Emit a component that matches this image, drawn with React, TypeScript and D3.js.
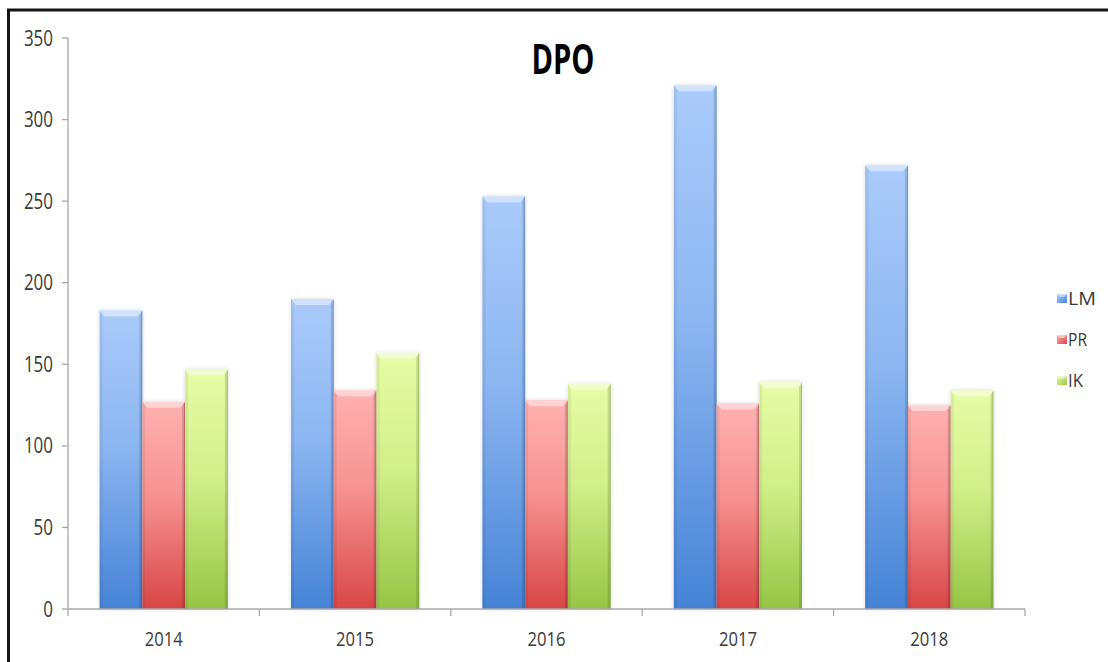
import React from "react";
import * as d3 from "d3";

const years = ["2014", "2015", "2016", "2017", "2018"];
const seriesNames = ["LM", "PR", "IK"];
const lmValues = [183, 190, 253, 321, 272];
const prValues = [127, 134, 128, 126, 125];
const ikValues = [147, 157, 138, 139, 134];
const yTicks = [0, 50, 100, 150, 200, 250, 300, 350];
const title = "DPO";

const seriesValues = [lmValues, prValues, ikValues];
const palette = [
  { top: "#aacbfb", mid: "#8cb6f1", bottom: "#4683d6", edge: "#3f74c0" },
  { top: "#ffb0b0", mid: "#f79292", bottom: "#d84646", edge: "#b83c3c" },
  { top: "#e6fca6", mid: "#d2ef8a", bottom: "#96c545", edge: "#7ea83a" },
];
const legendWidths = [28, 19, 15];

const W = 1108;
const H = 662;
const left = 68;
const right = 1025;
const bottom = 609;
const top = 38;
const FONT = "'Open Sans', 'DejaVu Sans', sans-serif";

export default function App() {
  const x = d3.scaleBand<string>().domain(years).range([left, right]).paddingInner(0.33).paddingOuter(0.165);
  const xs = d3.scaleBand<string>().domain(seriesNames).range([0, x.bandwidth()]);
  const y = d3.scaleLinear().domain([0, 350]).range([bottom, top]);
  const step = x.step();

  return (
    <svg width={W} height={H} style={{ position: "absolute", left: 0, top: 0, background: "#fff" }}>
      <defs>
        {palette.map((c, i) => (
          <linearGradient key={i} id={`g${i}`} x1="0" y1="0" x2="0" y2="1">
            <stop offset="0" stopColor={c.top} />
            <stop offset="0.45" stopColor={c.mid} />
            <stop offset="1" stopColor={c.bottom} />
          </linearGradient>
        ))}
        {palette.map((c, i) => (
          <linearGradient key={`l${i}`} id={`lg${i}`} x1="0" y1="0" x2="1" y2="1">
            <stop offset="0" stopColor={c.top} />
            <stop offset="1" stopColor={c.bottom} />
          </linearGradient>
        ))}
        <filter id="sh" x="-20%" y="-5%" width="140%" height="110%">
          <feGaussianBlur in="SourceAlpha" stdDeviation="2" />
          <feOffset dx="0" dy="0" result="b" />
          <feComponentTransfer><feFuncA type="linear" slope="0.15" /></feComponentTransfer>
          <feMerge><feMergeNode /><feMergeNode in="SourceGraphic" /></feMerge>
        </filter>
      </defs>

      <rect x={8.5} y={10} width={1300} height={900} fill="none" stroke="#151515" strokeWidth={3} />

      {/* title */}
      <text transform={`translate(${563},${74}) scale(1,1.5)`} textAnchor="middle" fontFamily={FONT} fontWeight="bold" fontSize={28} fill="#000" textLength={63} lengthAdjust="spacingAndGlyphs">
        {title}
      </text>

      {/* y axis */}
      <line x1={left} x2={left} y1={top} y2={bottom} stroke="#a8a8a8" strokeWidth={1.3} />
      {yTicks.map((t) => (
        <g key={t}>
          <line x1={left - 6} x2={left} y1={y(t)} y2={y(t)} stroke="#a8a8a8" strokeWidth={1.3} />
          <text transform={`translate(${53},${y(t) + 7.5}) scale(1,1.24)`} textAnchor="end" fontFamily={FONT} fontSize={17} fill="#3a3a3a" textLength={String(t).length * 9.7} lengthAdjust="spacingAndGlyphs">
            {t}
          </text>
        </g>
      ))}

      {/* bars */}
      {years.map((yr, yi) => (
        <g key={yr}>
          {seriesNames.map((s, si) => {
            const v = seriesValues[si][yi];
            const bx = (x(yr) as number) + (xs(s) as number);
            const bw = xs.bandwidth();
            const by = y(v);
            const c = palette[si];
            const bev = 5;
            return (
              <g key={s} filter="url(#sh)">
                <rect x={bx} y={by} width={bw} height={bottom - by} fill={`url(#g${si})`} />
                <path d={`M${bx},${by} L${bx + 3},${by + bev} L${bx + 3},${bottom} L${bx},${bottom} Z`} fill="#000" opacity={0.06} />
                <path d={`M${bx + bw},${by} L${bx + bw - 3},${by + bev} L${bx + bw - 3},${bottom} L${bx + bw},${bottom} Z`} fill="#000" opacity={0.12} />
                <path d={`M${bx},${by} L${bx + bw},${by} L${bx + bw - bev},${by + bev + 1} L${bx + bev},${by + bev + 1} Z`} fill="#fff" opacity={0.45} />
                <line x1={bx + bw - 0.5} x2={bx + bw - 0.5} y1={by + 1} y2={bottom} stroke={c.edge} strokeWidth={1} opacity={0.5} />
              </g>
            );
          })}
        </g>
      ))}

      {/* x axis */}
      <line x1={left} x2={right} y1={bottom} y2={bottom} stroke="#a8a8a8" strokeWidth={1.3} />
      {d3.range(years.length + 1).map((i) => (
        <line key={i} x1={left + i * step} x2={left + i * step} y1={bottom} y2={bottom + 7} stroke="#a8a8a8" strokeWidth={1.3} />
      ))}
      {years.map((yr) => (
        <text key={yr} transform={`translate(${(x(yr) as number) + x.bandwidth() / 2},${646}) scale(1,1.26)`} textAnchor="middle" fontFamily={FONT} fontSize={16.5} fill="#3a3a3a" textLength={38} lengthAdjust="spacingAndGlyphs">
          {yr}
        </text>
      ))}

      {/* legend */}
      {seriesNames.map((s, i) => {
        const cy = 298 + i * 41;
        return (
          <g key={s}>
            <rect x={1057} y={cy - 4} width={10} height={9} fill={`url(#lg${i})`} />
            <path d={`M1057,${cy - 4} L1067,${cy - 4} L1064,${cy - 1} L1060,${cy - 1} Z`} fill="#fff" opacity={0.5} />
            <text x={1068} y={cy + 6.5} fontFamily={FONT} fontSize={18} fill="#3a3a3a" textLength={legendWidths[i]} lengthAdjust="spacingAndGlyphs">
              {s}
            </text>
          </g>
        );
      })}
    </svg>
  );
}
